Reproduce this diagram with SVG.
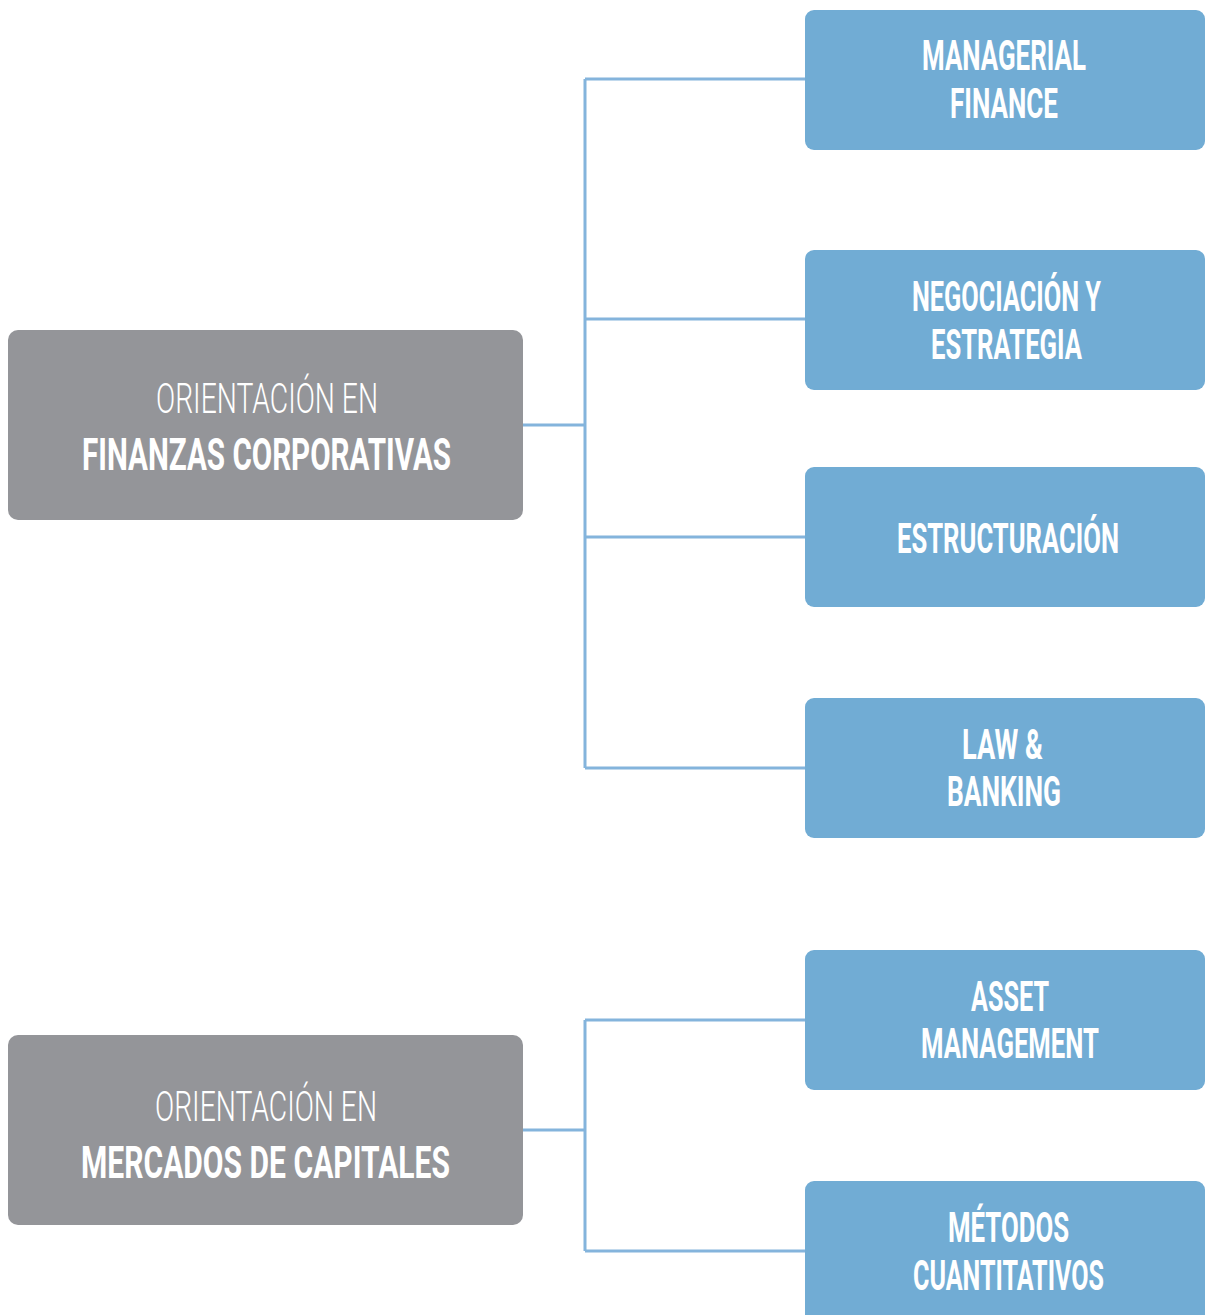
<svg xmlns="http://www.w3.org/2000/svg" width="1205" height="1315" viewBox="0 0 1205 1315">
<style>
.grey{fill:#949599}
.blue{fill:#71acd4}
.conn{stroke:#84b4dc;stroke-width:3;fill:none}
.t{fill:#ffffff;font-family:Roboto,"Liberation Sans",sans-serif;text-anchor:middle}
.light{font-weight:300;font-size:42px}
.bold{font-weight:700;font-size:44px}
.b{font-weight:700;font-size:42px}
</style>
<rect width="1205" height="1315" fill="#ffffff"/>
<g id="connectors">
<path class="conn" d="M523 425H585M585 79V768M585 79H806M585 319H806M585 537H806M585 768H806"/>
<path class="conn" d="M523 1130H585M585 1020V1251M585 1020H806M585 1251H806"/>
</g>
<g id="node-finanzas">
<rect class="grey" x="8" y="330" width="515" height="190" rx="10"/>
<text class="t light" x="267" y="413" textLength="222" lengthAdjust="spacingAndGlyphs">ORIENTACIÓN EN</text>
<text class="t bold" x="266.5" y="470" textLength="369" lengthAdjust="spacingAndGlyphs">FINANZAS CORPORATIVAS</text>
</g>
<g id="node-mercados">
<rect class="grey" x="8" y="1035" width="515" height="190" rx="10"/>
<text class="t light" x="266" y="1121" textLength="222" lengthAdjust="spacingAndGlyphs">ORIENTACIÓN EN</text>
<text class="t bold" x="265.5" y="1178" textLength="369" lengthAdjust="spacingAndGlyphs">MERCADOS DE CAPITALES</text>
</g>
<g id="node-managerial">
<rect class="blue" x="805" y="10" width="400" height="140" rx="9"/>
<text class="t b" x="1004" y="70" textLength="164" lengthAdjust="spacingAndGlyphs">MANAGERIAL</text>
<text class="t b" x="1004" y="118" textLength="108" lengthAdjust="spacingAndGlyphs">FINANCE</text>
</g>
<g id="node-negociacion">
<rect class="blue" x="805" y="250" width="400" height="140" rx="9"/>
<text class="t b" x="1006.5" y="311" textLength="189" lengthAdjust="spacingAndGlyphs">NEGOCIACIÓN Y</text>
<text class="t b" x="1006.5" y="359" textLength="151" lengthAdjust="spacingAndGlyphs">ESTRATEGIA</text>
</g>
<g id="node-estructuracion">
<rect class="blue" x="805" y="467" width="400" height="140" rx="9"/>
<text class="t b" x="1008" y="553" textLength="222" lengthAdjust="spacingAndGlyphs">ESTRUCTURACIÓN</text>
</g>
<g id="node-law">
<rect class="blue" x="805" y="698" width="400" height="140" rx="9"/>
<text class="t b" x="1002.5" y="759" textLength="81" lengthAdjust="spacingAndGlyphs">LAW &amp;</text>
<text class="t b" x="1004" y="806" textLength="114" lengthAdjust="spacingAndGlyphs">BANKING</text>
</g>
<g id="node-asset">
<rect class="blue" x="805" y="950" width="400" height="140" rx="9"/>
<text class="t b" x="1010" y="1011" textLength="78" lengthAdjust="spacingAndGlyphs">ASSET</text>
<text class="t b" x="1010" y="1058" textLength="178" lengthAdjust="spacingAndGlyphs">MANAGEMENT</text>
</g>
<g id="node-metodos">
<rect class="blue" x="805" y="1181" width="400" height="150" rx="9"/>
<text class="t b" x="1008.5" y="1242" textLength="121" lengthAdjust="spacingAndGlyphs">MÉTODOS</text>
<text class="t b" x="1008.5" y="1290" textLength="191" lengthAdjust="spacingAndGlyphs">CUANTITATIVOS</text>
</g>
</svg>
